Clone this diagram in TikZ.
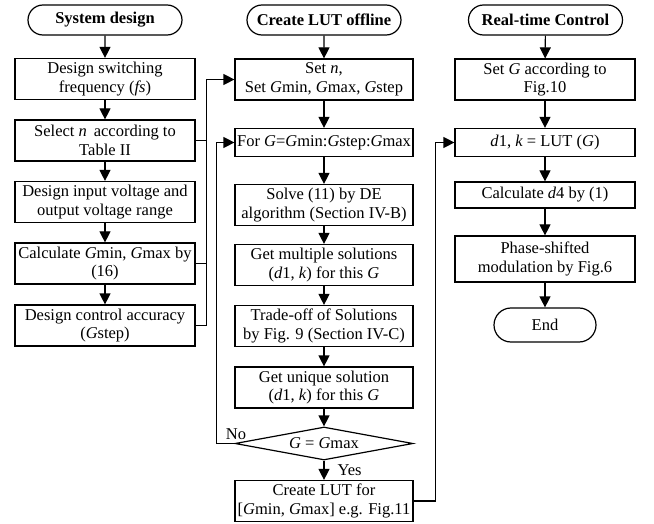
\documentclass[tikz,border=0pt]{standalone}
\usepackage{fontspec}
\setmainfont{Liberation Serif}
\usetikzlibrary{arrows.meta,shapes.geometric,shapes.misc}
\begin{document}
\begin{tikzpicture}[x=1pt,y=-1pt,
  font=\fontsize{16.5}{18.5}\selectfont,
  line width=1.2pt,
  box/.style={draw, rectangle, align=center, inner sep=0pt, minimum height=41pt},
  lbox/.style={box, minimum width=180pt},
  mbox/.style={box, minimum width=178pt},
  rbox/.style={box, minimum width=180pt},
  onel/.style={minimum height=28pt},
  term/.style={draw, rounded rectangle, inner sep=0pt, minimum width=154pt, minimum height=30pt, font=\fontsize{16.5}{18.5}\selectfont\bfseries},
  dec/.style={draw, diamond, inner sep=0pt, minimum width=178pt, minimum height=33pt, aspect=5.4},
  arr/.style={-{Triangle[length=11pt,width=11pt]}},
  lbl/.style={inner sep=0pt}
]
\fill[white] (0,0) rectangle (654,524);
% left column
\node[term] (t1) at (105,20) {System design};
\node[lbox] (l1) at (105,79) {Design switching\\frequency (\textit{fs})};
\node[lbox] (l2) at (105,140.5) {Select \textit{n}\, according to\\Table II};
\node[lbox] (l3) at (105,202) {Design input voltage and\\output voltage range};
\node[lbox] (l4) at (105,263.5) {Calculate \textit{G}min, \textit{G}max by\\(16)};
\node[lbox] (l5) at (105,325.5) {Design control accuracy\\(\textit{G}step)};
% middle column
\node[term] (t2) at (324,20) {Create LUT offline};
\node[mbox] (m1) at (324,79.5) {Set \textit{n},\\Set \textit{G}min, \textit{G}max, \textit{G}step};
\node[mbox, onel] (m2) at (324,142.5) {For \textit{G}=\textit{G}min:\textit{G}step:\textit{G}max};
\node[mbox] (m3) at (324,205) {Solve (11) by DE\\algorithm (Section IV-B)};
\node[mbox] (m4) at (324,265) {Get multiple solutions\\(\textit{d}1, \textit{k}) for this \textit{G}};
\node[mbox] (m5) at (324,326) {Trade-off of Solutions\\by Fig. 9 (Section IV-C)};
\node[mbox] (m6) at (324,387.5) {Get unique solution\\(\textit{d}1, \textit{k}) for this \textit{G}};
\node[dec] (d) at (324,443.5) {\textit{G} = \textit{G}max};
\node[mbox] (m7) at (324,501) {Create LUT for\\{}[\textit{G}min, \textit{G}max] e.g. Fig.11};
% right column
\node[term] (t3) at (545.5,20) {Real-time Control};
\node[rbox] (r1) at (545,79.5) {Set \textit{G} according to\\Fig.10};
\node[rbox, onel] (r2) at (545,142.5) {\textit{d}1, \textit{k} = LUT (\textit{G})};
\node[rbox, minimum height=26pt] (r3) at (545,195) {Calculate \textit{d}4 by (1)};
\node[rbox, minimum height=46pt] (r4) at (545,259) {Phase-shifted\\modulation by Fig.6};
\node[term, minimum width=102pt, minimum height=34pt, font=\fontsize{16.5}{18.5}\selectfont] (e) at (545,325) {End};
% vertical arrows
\draw[arr] (t1) -- (l1);
\draw[arr] (l1) -- (l2);
\draw[arr] (l2) -- (l3);
\draw[arr] (l3) -- (l4);
\draw[arr] (l4) -- (l5);
\draw[arr] (t2) -- (m1);
\draw[arr] (m1) -- (m2);
\draw[arr] (m2) -- (m3);
\draw[arr] (m3) -- (m4);
\draw[arr] (m4) -- (m5);
\draw[arr] (m5) -- (m6);
\draw[arr] (m6) -- (d);
\draw[arr] (d) -- (m7);
\draw[arr] (t3) -- (r1);
\draw[arr] (r1) -- (r2);
\draw[arr] (r2) -- (r3);
\draw[arr] (r3) -- (r4);
\draw[arr] (r4) -- (e);
% left to middle
\draw[arr] (l5.east) -- ++(11,0) |- (m1.west);
\draw (l2.east) -- ++(11,0);
\draw (l4.east) -- ++(11,0);
% no loop
\draw[arr] (d.west) -- ++(-18,0) |- (m2.west);
\node[lbl] (no) at (236,434) {No};
\node[lbl, anchor=west] (yes) at (337,470) {Yes};
% middle to right
\draw[arr] (m7.east) -- ++(22,0) |- (r2.west);
\end{tikzpicture}
\end{document}
